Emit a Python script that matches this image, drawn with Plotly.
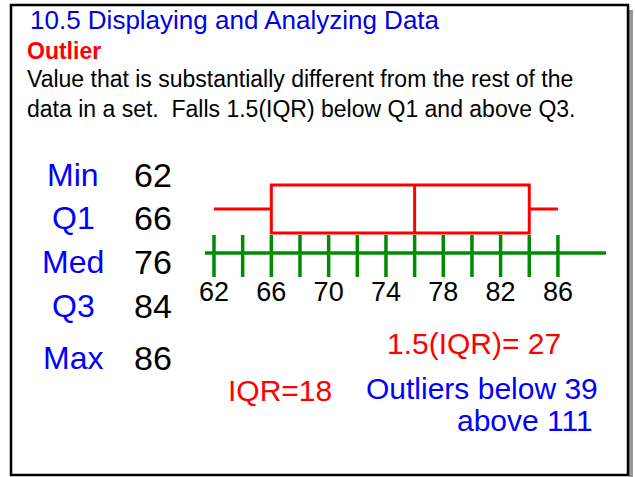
import plotly.graph_objects as go

# ---- data ----
stat_names = ["Min", "Q1", "Med", "Q3", "Max"]
stat_values = [62, 66, 76, 84, 86]
tick_values = list(range(62, 87, 2))
tick_label_values = list(range(62, 87, 4))
iqr = 18
iqr_15 = 27
outlier_low = 39
outlier_high = 111

W, H = 635, 477
PX0, V0, PPU = 214.0, 62.0, 14.33
x_range = [V0 - PX0 / PPU, V0 + (W - PX0) / PPU]

def px2v(px):
    return V0 + (px - PX0) / PPU

RED = "rgb(255,0,0)"
BLUE = "rgb(0,0,255)"
GREEN = "rgb(0,140,0)"
FONT = "Liberation Sans, Arial, sans-serif"

fig = go.Figure()

fig.add_trace(go.Box(
    q1=[stat_values[1]], median=[stat_values[2]], q3=[stat_values[3]],
    lowerfence=[stat_values[0]], upperfence=[stat_values[4]],
    y=[209], orientation="h", width=48, whiskerwidth=0,
    line=dict(color=RED, width=3), fillcolor="rgba(0,0,0,0)",
    boxpoints=False, hoverinfo="skip", showlegend=False,
))

fig.add_trace(go.Scatter(
    x=[px2v(205), px2v(606)], y=[253, 253], mode="lines",
    line=dict(color=GREEN, width=3.5), hoverinfo="skip", showlegend=False,
))
fig.add_trace(go.Scatter(
    x=tick_values, y=[256] * len(tick_values), mode="markers",
    marker=dict(symbol="line-ns", size=30, line=dict(color=GREEN, width=3.5)),
    hoverinfo="skip", showlegend=False,
))
fig.add_trace(go.Scatter(
    x=tick_label_values, y=[294] * len(tick_label_values), mode="text",
    text=[str(v) for v in tick_label_values],
    textfont=dict(family=FONT, size=27, color="black"),
    hoverinfo="skip", showlegend=False,
))

annotations = []

def add_text(text, px, py, size, color, anchor="left", bold=False):
    if bold:
        text = "<b>" + text + "</b>"
    annotations.append(dict(
        text=text, x=px / W, y=1 - py / H, xref="paper", yref="paper",
        xanchor=anchor, yanchor="middle", showarrow=False,
        font=dict(family=FONT, size=size, color=color),
    ))

add_text("10.5 Displaying and Analyzing Data", 28, 20, 26, "rgb(0,0,230)")
add_text("Outlier", 25, 51, 23, RED, bold=True)
add_text("Value that is substantially different from the rest of the", 25, 79, 23, "black")
add_text("data in a set.  Falls 1.5(IQR) below Q1 and above Q3.", 25, 109, 23, "black")

stat_y = [175, 218, 262, 306, 358]
for name, val, yy in zip(stat_names, stat_values, stat_y):
    add_text(name, 73, yy, 32, BLUE, anchor="center")
    add_text(str(val), 153, yy, 34, "black", anchor="center")

add_text("1.5(IQR)= %d" % iqr_15, 474, 343, 30, RED, anchor="center")
add_text("IQR=%d" % iqr, 280, 390, 30, RED, anchor="center")
add_text("Outliers below %d" % outlier_low, 600, 388, 30, BLUE, anchor="right")
add_text("above %d" % outlier_high, 595, 420, 30, BLUE, anchor="right")

shapes = [
    dict(type="line", xref="paper", yref="paper", x0=631 / W, x1=631 / W,
         y0=1 - 10 / H, y1=0, line=dict(color="rgb(150,150,150)", width=4)),
    dict(type="rect", xref="paper", yref="paper", x0=11 / W, x1=628 / W,
         y0=1 - 475 / H, y1=1 - 5 / H, line=dict(color="black", width=2.5)),
]

fig.update_layout(
    width=W, height=H, margin=dict(l=0, r=0, t=0, b=0),
    paper_bgcolor="white", plot_bgcolor="white",
    xaxis=dict(range=x_range, visible=False, fixedrange=True),
    yaxis=dict(range=[H, 0], visible=False, fixedrange=True),
    annotations=annotations, shapes=shapes, showlegend=False,
)

fig.write_html("out.html", post_script="document.body.style.margin='0px';",
               config={"displayModeBar": False})
